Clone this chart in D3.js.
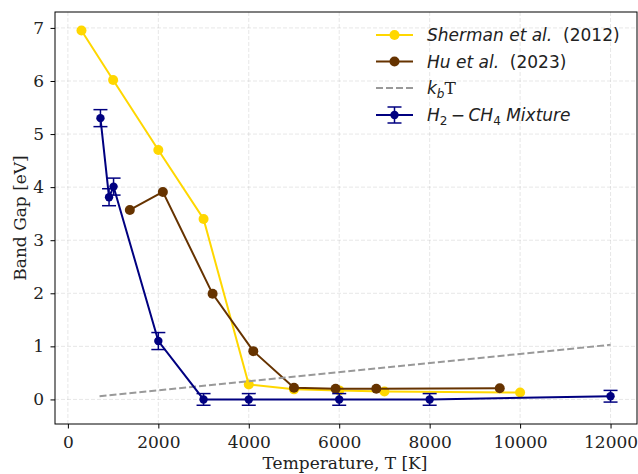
<!DOCTYPE html>
<html><head><meta charset="utf-8">
<script src="https://cdn.jsdelivr.net/npm/d3@7"></script>
<style>body{margin:0;background:#fff}svg{display:block}</style>
</head><body>
<svg id="c" width="638" height="474"></svg>
<script>
// Data
const shermanT = [300, 1000, 2000, 3000, 4000, 5000, 6000, 7000, 10000];
const shermanGap = [6.95, 6.02, 4.70, 3.40, 0.28, 0.19, 0.17, 0.15, 0.13];
const huT = [1370, 2100, 3200, 4100, 5000, 5920, 6820, 9550];
const huGap = [3.57, 3.91, 1.99, 0.91, 0.22, 0.20, 0.20, 0.21];
const kbT_T = [700, 12000];
const kbT_gap = [0.06, 1.03];
const mixT = [720, 910, 1010, 2000, 3000, 4000, 6000, 8000, 12000];
const mixGap = [5.30, 3.81, 4.01, 1.10, 0.00, 0.00, 0.00, 0.00, 0.06];
const mixErr = [0.16, 0.16, 0.16, 0.16, 0.11, 0.11, 0.11, 0.11, 0.11];
const xTicks = [0, 2000, 4000, 6000, 8000, 10000, 12000];
const yTicks = [0, 1, 2, 3, 4, 5, 6, 7];

const svg = d3.select("#c");
const L = 55, R = 637, T = 12, B = 424;
const x = d3.scaleLinear().domain([-285, 12585]).range([L, R]);
const y = d3.scaleLinear().domain([-0.463, 7.30]).range([B, T]);
const serif = "'DejaVu Serif', serif";
const sans = "'DejaVu Sans', sans-serif";

// grid
const g = svg.append("g");
g.selectAll(".gx").data(xTicks).enter().append("line")
  .attr("x1", d => x(d)).attr("x2", d => x(d)).attr("y1", T).attr("y2", B)
  .attr("stroke", "#b0b0b0").attr("stroke-opacity", 0.3).attr("stroke-dasharray", "4,2").attr("stroke-width", 1);
g.selectAll(".gy").data(yTicks).enter().append("line")
  .attr("y1", d => y(d)).attr("y2", d => y(d)).attr("x1", L).attr("x2", R)
  .attr("stroke", "#b0b0b0").attr("stroke-opacity", 0.3).attr("stroke-dasharray", "4,2").attr("stroke-width", 1);

// axes
const xa = svg.append("g").attr("transform", `translate(0,${B})`)
  .call(d3.axisBottom(x).tickValues(xTicks).tickSize(4.5).tickPadding(7.7).tickFormat(d3.format("d")));
const ya = svg.append("g").attr("transform", `translate(${L},0)`)
  .call(d3.axisLeft(y).tickValues(yTicks).tickSize(4.5).tickPadding(6.5).tickFormat(d3.format("d")));
[xa, ya].forEach(a => {
  a.select(".domain").remove();
  a.selectAll("text").attr("font-family", serif).attr("font-size", 17).attr("fill", "#222");
  a.selectAll("line").attr("stroke", "#000");
});

const line = d3.line().x(d => x(d[0])).y(d => y(d[1]));
const layer = svg.append("g");

// Sherman
const sData = shermanT.map((t, i) => [t, shermanGap[i]]);
layer.append("path").datum(sData).attr("d", line).attr("fill", "none").attr("stroke", "#FFD700").attr("stroke-width", 2);
layer.selectAll(".sm").data(sData).enter().append("circle")
  .attr("cx", d => x(d[0])).attr("cy", d => y(d[1])).attr("r", 5).attr("fill", "#FFD700");

// Hu
const hData = huT.map((t, i) => [t, huGap[i]]);
layer.append("path").datum(hData).attr("d", line).attr("fill", "none").attr("stroke", "#663300").attr("stroke-width", 2);
layer.selectAll(".hm").data(hData).enter().append("circle")
  .attr("cx", d => x(d[0])).attr("cy", d => y(d[1])).attr("r", 5).attr("fill", "#663300");

// kbT
const kData = kbT_T.map((t, i) => [t, kbT_gap[i]]);
layer.append("path").datum(kData).attr("d", line).attr("fill", "none").attr("stroke", "#999").attr("stroke-width", 2).attr("stroke-dasharray", "7,3");

// Mixture
const mData = mixT.map((t, i) => [t, mixGap[i], mixErr[i]]);
const blue = "#000080";
layer.append("path").datum(mData).attr("d", line).attr("fill", "none").attr("stroke", blue).attr("stroke-width", 2);
const eb = layer.selectAll(".eb").data(mData).enter().append("g");
eb.append("line").attr("x1", d => x(d[0])).attr("x2", d => x(d[0]))
  .attr("y1", d => y(d[1] - d[2])).attr("y2", d => y(d[1] + d[2])).attr("stroke", blue).attr("stroke-width", 1.5);
eb.append("line").attr("x1", d => x(d[0]) - 7).attr("x2", d => x(d[0]) + 7)
  .attr("y1", d => y(d[1] - d[2])).attr("y2", d => y(d[1] - d[2])).attr("stroke", blue).attr("stroke-width", 1.5);
eb.append("line").attr("x1", d => x(d[0]) - 7).attr("x2", d => x(d[0]) + 7)
  .attr("y1", d => y(d[1] + d[2])).attr("y2", d => y(d[1] + d[2])).attr("stroke", blue).attr("stroke-width", 1.5);
eb.append("circle").attr("cx", d => x(d[0])).attr("cy", d => y(d[1])).attr("r", 4.2).attr("fill", blue);

// frame
svg.append("rect").attr("x", L).attr("y", T).attr("width", R - L).attr("height", B - T)
  .attr("fill", "none").attr("stroke", "#000").attr("stroke-width", 1);

// axis labels
svg.append("text").attr("x", (L + R) / 2 - 1).attr("y", 469).attr("text-anchor", "middle")
  .attr("font-family", serif).attr("font-size", 17).attr("fill", "#222").text("Temperature, T [K]");
svg.append("text").attr("transform", `translate(26,${(T + B) / 2}) rotate(-90)`).attr("text-anchor", "middle")
  .attr("font-family", serif).attr("font-size", 17).attr("fill", "#222").text("Band Gap [eV]");

// legend
const leg = svg.append("g");
const rows = [35, 61.5, 88, 115];
const hx1 = 376, hx2 = 413, hm = 394.5, tx = 427;
leg.append("line").attr("x1", hx1).attr("x2", hx2).attr("y1", rows[0]).attr("y2", rows[0]).attr("stroke", "#FFD700").attr("stroke-width", 2);
leg.append("circle").attr("cx", hm).attr("cy", rows[0]).attr("r", 5).attr("fill", "#FFD700");
leg.append("line").attr("x1", hx1).attr("x2", hx2).attr("y1", rows[1]).attr("y2", rows[1]).attr("stroke", "#663300").attr("stroke-width", 2);
leg.append("circle").attr("cx", hm).attr("cy", rows[1]).attr("r", 5).attr("fill", "#663300");
leg.append("line").attr("x1", hx1).attr("x2", hx2).attr("y1", rows[2]).attr("y2", rows[2]).attr("stroke", "#999").attr("stroke-width", 2).attr("stroke-dasharray", "7,3");
leg.append("line").attr("x1", hx1).attr("x2", hx2).attr("y1", rows[3]).attr("y2", rows[3]).attr("stroke", blue).attr("stroke-width", 2);
leg.append("line").attr("x1", hm).attr("x2", hm).attr("y1", rows[3] - 8).attr("y2", rows[3] + 8).attr("stroke", blue).attr("stroke-width", 1.5);
leg.append("line").attr("x1", hm - 7).attr("x2", hm + 7).attr("y1", rows[3] - 8).attr("y2", rows[3] - 8).attr("stroke", blue).attr("stroke-width", 1.5);
leg.append("line").attr("x1", hm - 7).attr("x2", hm + 7).attr("y1", rows[3] + 8).attr("y2", rows[3] + 8).attr("stroke", blue).attr("stroke-width", 1.5);
leg.append("circle").attr("cx", hm).attr("cy", rows[3]).attr("r", 4.2).attr("fill", blue);

const fs = 17;
function ltext(yy) {
  return leg.append("text").attr("x", tx).attr("y", yy + 6).attr("font-family", sans).attr("font-size", fs).attr("fill", "#222");
}
let t1 = ltext(rows[0]);
t1.append("tspan").attr("font-style", "italic").text("Sherman et al.");
t1.append("tspan").text("\u00a0\u00a0(2012)");
let t2 = ltext(rows[1]);
t2.append("tspan").attr("font-style", "italic").text("Hu et al.");
t2.append("tspan").text("\u00a0\u00a0(2023)");
let t3 = ltext(rows[2]);
t3.append("tspan").attr("font-style", "italic").text("k");
t3.append("tspan").attr("font-style", "italic").attr("font-size", 12).attr("dy", 4).text("b");
t3.append("tspan").attr("font-family", serif).attr("dy", -4).text("T");
let t4 = ltext(rows[3]);
t4.append("tspan").attr("font-style", "italic").text("H");
t4.append("tspan").attr("font-size", 12).attr("dy", 4).text("2");
t4.append("tspan").attr("dy", -4).text("\u2009\u2212\u2009");
t4.append("tspan").attr("font-style", "italic").text("CH");
t4.append("tspan").attr("font-size", 12).attr("dy", 4).text("4");
t4.append("tspan").attr("font-style", "italic").attr("dy", -4).text("\u00a0Mixture");
</script>
</body></html>
